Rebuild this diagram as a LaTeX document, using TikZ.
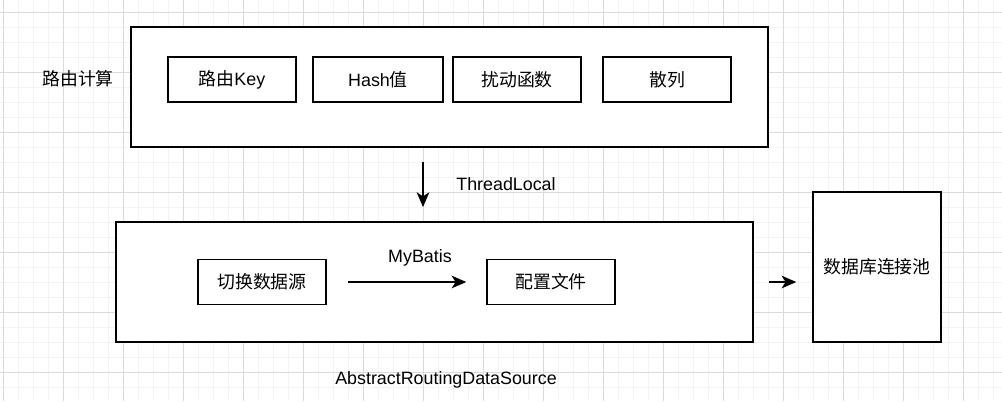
\documentclass[tikz,border=0pt]{standalone}
\usepackage{fontspec}
\setmainfont{Liberation Sans}
\newfontfamily\cjk{Noto Sans CJK SC}
\usetikzlibrary{arrows.meta}
\newcommand{\zh}[1]{{\cjk #1}}
\definecolor{gridmajor}{RGB}{218,218,218}
\definecolor{gridminor}{RGB}{243,243,243}

\begin{document}
\begin{tikzpicture}[x=0.75pt,y=0.75pt,yscale=-1,xscale=1,
  box/.style={draw=black,fill=white,line width=1.1pt,inner sep=0pt,font=\fontsize{13.4}{16}\selectfont},
  lbl/.style={inner sep=0pt,font=\fontsize{13.4}{16}\selectfont},
  arr/.style={line width=1.1pt,-{Stealth[length=11pt,width=9.5pt,inset=3pt]}}]
\useasboundingbox (0,0) rectangle (1002,401);
\fill[white] (0,0) rectangle (1002,401);

%Grid
\foreach \gx in {3,18,...,993} \draw[gridminor,line width=0.75pt] (\gx,0) -- (\gx,401);
\foreach \gy in {12,27,...,402} \draw[gridminor,line width=0.75pt] (0,\gy) -- (1002,\gy);
\foreach \gx in {3,63,...,963} \draw[gridmajor,line width=0.75pt] (\gx,0) -- (\gx,401);
\foreach \gy in {12,72,...,372} \draw[gridmajor,line width=0.75pt] (0,\gy) -- (1002,\gy);

%Shape: Rectangle
\node[box,minimum width=477.75pt,minimum height=90pt] (route) at (449.5,87) {};
%Shape: Rectangle
\node[box,minimum width=96pt,minimum height=33.75pt] (key) at (232,79.5) {\zh{路由}Key};
%Shape: Rectangle
\node[box,minimum width=97.5pt,minimum height=33.75pt] (hash) at (378,79.5) {Hash\zh{值}};
%Shape: Rectangle
\node[box,minimum width=96pt,minimum height=33.75pt] (perturb) at (517,79.5) {\zh{扰动函数}};
%Shape: Rectangle
\node[box,minimum width=96pt,minimum height=33.75pt] (scatter) at (667,79.5) {\zh{散列}};

%Shape: Rectangle
\node[box,minimum width=477.75pt,minimum height=90pt] (source) at (434.5,282) {};
%Shape: Rectangle
\node[box,minimum width=96pt,minimum height=33.75pt] (switch) at (262,282) {\zh{切换数据源}};
%Shape: Rectangle
\node[box,minimum width=96pt,minimum height=33.75pt] (config) at (551,282) {\zh{配置文件}};

%Shape: Rectangle
\node[box,minimum width=96pt,minimum height=112.5pt] (pool) at (877,267) {\zh{数据库连接池}};

%Straight Lines
\coordinate (tlstart) at (423,162);
\coordinate (tlend) at (423,207);
\draw[arr] (tlstart) -- (tlend);
%Straight Lines
\draw[arr,shorten <=15.75pt,shorten >=15pt] (switch.east) -- (config.west);
%Straight Lines
\draw[arr,shorten <=11.25pt,shorten >=12pt] (source.east) -- (source.east -| pool.west);

% Text Node
\node[lbl] (routelbl) at (78,79) {\zh{路由计算}};
% Text Node
\node[lbl] (tllbl) at (506,184) {ThreadLocal};
% Text Node
\node[lbl] (mblbl) at (420,258) {MyBatis};
% Text Node
\node[lbl] (ardslbl) at (446,380) {AbstractRoutingDataSource};

\end{tikzpicture}
\end{document}
